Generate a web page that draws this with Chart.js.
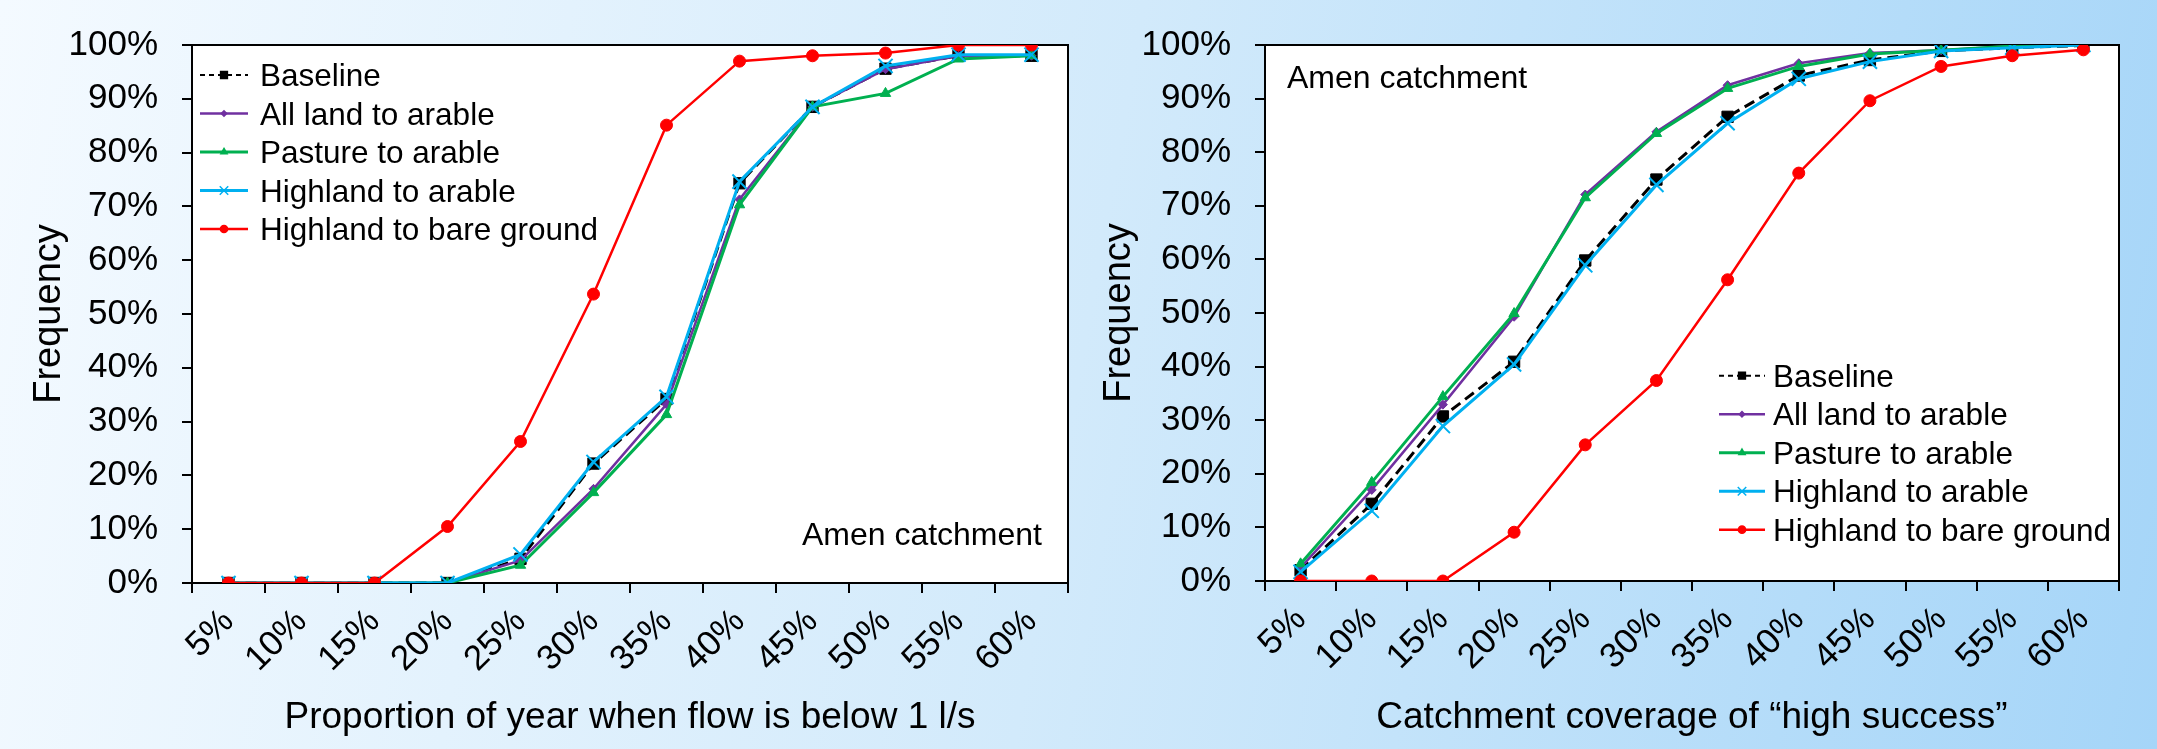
<!DOCTYPE html>
<html>
<head>
<meta charset="utf-8">
<script src="https://cdn.jsdelivr.net/npm/chart.js@4.4.1/dist/chart.umd.min.js"></script>
<style>
  html, body { margin: 0; padding: 0; }
  body {
    width: 2157px; height: 749px; overflow: hidden; position: relative;
    background: linear-gradient(100deg, #f4faff 0%, #d2eafb 50%, #a5d5f8 100%);
  }
  canvas { position: absolute; top: 0; }
  #flow { left: 0; }
  #cover { left: 1080px; }
</style>
</head>
<body>
<canvas id="flow" width="1080" height="749"></canvas>
<canvas id="cover" width="1077" height="749"></canvas>
<script>
const categories = ['5%', '10%', '15%', '20%', '25%', '30%', '35%', '40%', '45%', '50%', '55%', '60%'];
const yTicks = [0, 10, 20, 30, 40, 50, 60, 70, 80, 90, 100];
const seriesNames = ['Baseline', 'All land to arable', 'Pasture to arable', 'Highland to arable', 'Highland to bare ground'];

// left panel: proportion of year when flow is below 1 l/s
const flowBaseline = [0, 0, 0, 0, 4.5, 22.2, 34.2, 74.3, 88.5, 95.6, 98, 98];
const flowAllLand  = [0, 0, 0, 0, 4.2, 17.5, 33.2, 71.3, 88.5, 95.5, 98, 98];
const flowPasture  = [0, 0, 0, 0, 3.3, 16.8, 31.3, 70.3, 88.5, 91, 97.4, 98];
const flowHighland = [0, 0, 0, 0, 5.3, 22.5, 34.6, 74.6, 88.5, 96.1, 98.2, 98.2];
const flowBare     = [0, 0, 0, 10.5, 26.3, 53.7, 85.1, 97, 98, 98.5, 100, 100];

// right panel: catchment coverage of "high success"
const coverBaseline = [2, 14.4, 30.7, 40.9, 59.8, 74.9, 86.6, 94.3, 97.2, 98.9, 99.5, 99.9];
const coverAllLand  = [2.5, 17, 32.9, 49.3, 72.1, 83.8, 92.5, 96.6, 98.5, 99, 99.8, 100];
const coverPasture  = [3.2, 18.4, 34.4, 49.9, 71.5, 83.5, 91.9, 96, 98.3, 99, 99.8, 100];
const coverHighland = [1.7, 13.1, 28.9, 40.4, 58.9, 73.9, 85.4, 93.7, 96.9, 98.9, 99.5, 100];
const coverBare     = [0, 0, 0, 9.1, 25.4, 37.4, 56.2, 76.1, 89.6, 96, 98, 99.1];

const colors  = ['#000000', '#7030a0', '#00b050', '#00b0f0', '#ff0000'];
const widths  = [3, 2.5, 3, 3, 2.5];
const dashes  = [[11, 6], [], [], [], []];
const markers = ['rect', 'rectRot', 'triangle', 'crossRot', 'circle'];
const radii   = [8, 4.5, 6, 10, 6];
const layers  = [5, 4, 3, 2, 1];

const FONT = "'Liberation Sans', Arial, Helvetica, sans-serif";
Chart.defaults.font.family = FONT;
Chart.defaults.color = '#000';

// white plot area with black frame
const frame = {
  id: 'frame',
  beforeDraw(chart) {
    const { ctx, chartArea: a } = chart;
    ctx.save();
    ctx.fillStyle = '#fff';
    ctx.fillRect(a.left, a.top, a.width, a.height);
    ctx.restore();
  },
  beforeDatasetsDraw(chart) {
    const { ctx, chartArea: a } = chart;
    ctx.save();
    ctx.strokeStyle = '#000';
    ctx.lineWidth = 2;
    ctx.strokeRect(a.left, a.top, a.width, a.height);
    ctx.restore();
  }
};

// legend box + caption inside the plot
const boxLegend = {
  id: 'boxLegend',
  afterDraw(chart, args, o) {
    const ctx = chart.ctx;
    ctx.save();
    ctx.font = '31.5px ' + FONT;
    ctx.textBaseline = 'alphabetic';
    chart.data.datasets.forEach((ds, i) => {
      const base = o.y + i * o.step;
      const my = base - 11;
      ctx.strokeStyle = ds.borderColor;
      ctx.lineWidth = i === 0 ? 2 : ds.borderWidth;
      ctx.setLineDash(i === 0 ? [5, 4] : []);
      ctx.beginPath();
      ctx.moveTo(o.x, my);
      ctx.lineTo(o.x + o.len, my);
      ctx.stroke();
      ctx.setLineDash([]);
      ctx.fillStyle = ds.pointBackgroundColor;
      ctx.strokeStyle = ds.pointBorderColor;
      ctx.lineWidth = 1.5;
      Chart.helpers.drawPoint(ctx, { pointStyle: ds.pointStyle, radius: ds.pointRadius * 0.6, rotation: 0, borderWidth: 1.5 }, o.x + o.len / 2, my);
      ctx.fillStyle = '#000';
      ctx.textAlign = 'left';
      ctx.fillText(ds.label, o.x + o.len + o.gap, base);
    });
    ctx.font = '32px ' + FONT;
    ctx.textAlign = o.noteAlign;
    ctx.fillText('Amen catchment', o.noteX, o.noteY);
    ctx.restore();
  }
};

function buildChart(id, xTitle, values, lay) {
  const datasets = seriesNames.map((name, i) => ({
    label: name,
    data: values[i],
    borderColor: colors[i],
    backgroundColor: colors[i],
    pointBackgroundColor: colors[i],
    pointBorderColor: colors[i],
    borderWidth: widths[i],
    borderDash: dashes[i],
    pointStyle: markers[i],
    pointRadius: radii[i],
    pointBorderWidth: i === 3 ? 2 : 1,
    order: layers[i],
    tension: 0
  }));
  return new Chart(document.getElementById(id), {
    type: 'line',
    data: { labels: categories, datasets },
    plugins: [frame, boxLegend],
    options: {
      responsive: false,
      animation: false,
      devicePixelRatio: 1,
      layout: { padding: lay.padding },
      plugins: {
        legend: { display: false },
        tooltip: { enabled: false },
        boxLegend: lay.legend
      },
      scales: {
        x: {
          type: 'category',
          offset: true,
          afterFit(s) { s.height = lay.xHeight; },
          grid: { offset: true, drawOnChartArea: false, drawTicks: true, tickLength: 10, color: '#000', lineWidth: 2 },
          border: { display: true, color: '#000', width: 2 },
          ticks: { autoSkip: false, minRotation: 45, maxRotation: 45, padding: 8, font: { size: 35 } },
          title: { display: true, text: xTitle, font: { size: 37 }, padding: { top: 4, bottom: 4 } }
        },
        y: {
          min: 0,
          max: 100,
          afterFit(s) { s.width = lay.yWidth; },
          afterBuildTicks(s) { s.ticks = yTicks.map(v => ({ value: v })); },
          grid: { drawOnChartArea: false, drawTicks: true, tickLength: 10, color: '#000', lineWidth: 2 },
          border: { display: true, color: '#000', width: 2 },
          ticks: { padding: 24, font: { size: 35 }, callback: v => v + '%' },
          title: { display: true, text: 'Frequency', font: { size: 38 }, padding: { top: 4, bottom: 4 } }
        }
      }
    }
  });
}

buildChart('flow', 'Proportion of year when flow is below 1 l/s',
  [flowBaseline, flowAllLand, flowPasture, flowHighland, flowBare],
  {
    padding: { left: 23, top: 41, right: 5, bottom: 5 },
    yWidth: 169, xHeight: 161,
    legend: { x: 200, y: 86, step: 38.5, len: 48, gap: 12, noteX: 1042, noteY: 545, noteAlign: 'right' }
  });

buildChart('cover', 'Catchment coverage of \u201chigh success\u201d',
  [coverBaseline, coverAllLand, coverPasture, coverHighland, coverBare],
  {
    padding: { left: 13, top: 41, right: 38, bottom: 5 },
    yWidth: 172, xHeight: 163,
    legend: { x: 639, y: 386.7, step: 38.5, len: 46, gap: 8, noteX: 207, noteY: 88, noteAlign: 'left' }
  });
</script>
</body>
</html>
